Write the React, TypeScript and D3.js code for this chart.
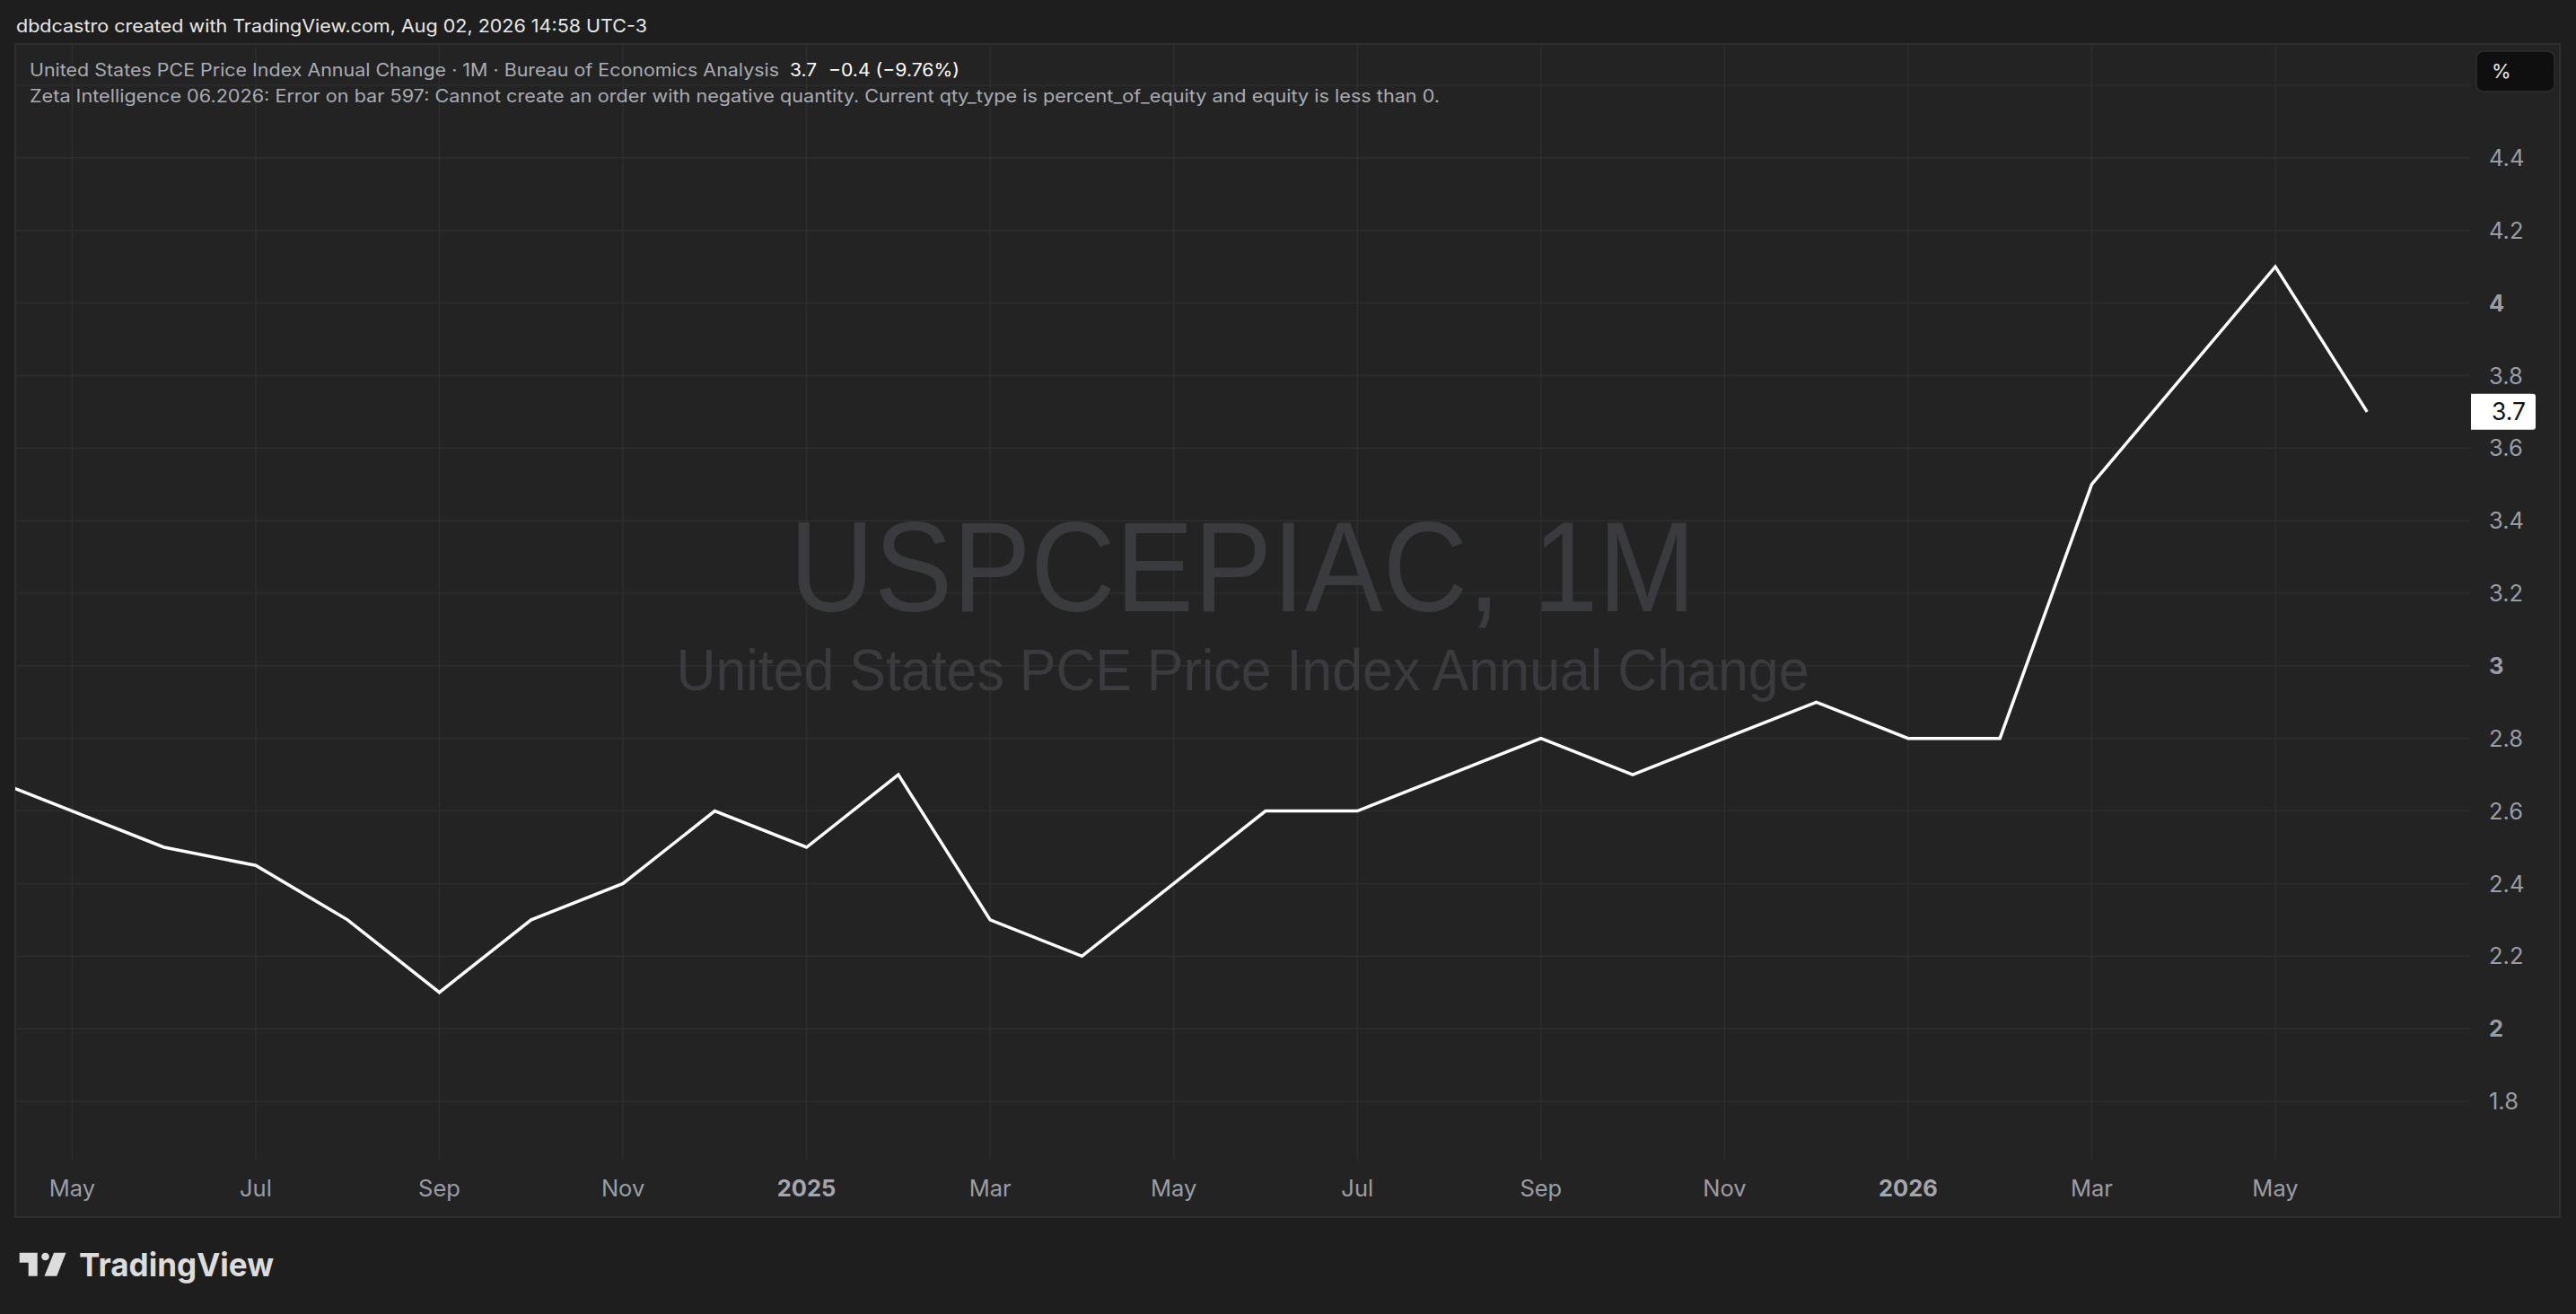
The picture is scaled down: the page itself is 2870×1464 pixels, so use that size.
import * as d3 from "d3";

// monthly series, Apr 2024 .. Jun 2026
const months = [
  "2024-04", "2024-05", "2024-06", "2024-07", "2024-08", "2024-09", "2024-10",
  "2024-11", "2024-12", "2025-01", "2025-02", "2025-03", "2025-04", "2025-05",
  "2025-06", "2025-07", "2025-08", "2025-09", "2025-10", "2025-11", "2025-12",
  "2026-01", "2026-02", "2026-03", "2026-04", "2026-05", "2026-06",
];
const pceValues = [
  2.7, 2.6, 2.5, 2.45, 2.3, 2.1, 2.3, 2.4, 2.6, 2.5, 2.7, 2.3, 2.2, 2.4,
  2.6, 2.6, 2.7, 2.8, 2.7, 2.8, 2.9, 2.8, 2.8, 3.5, 3.8, 4.1, 3.7,
];
const xTickMonths = [
  "2024-05", "2024-07", "2024-09", "2024-11", "2025-01", "2025-03", "2025-05",
  "2025-07", "2025-09", "2025-11", "2026-01", "2026-03", "2026-05",
];
const xTickLabels = [
  "May", "Jul", "Sep", "Nov", "2025", "Mar", "May", "Jul", "Sep", "Nov", "2026", "Mar", "May",
];
const yGridValues = [1.8, 2, 2.2, 2.4, 2.6, 2.8, 3, 3.2, 3.4, 3.6, 3.8, 4, 4.2, 4.4, 4.6];
const yLabelValues = [1.8, 2, 2.2, 2.4, 2.6, 2.8, 3, 3.2, 3.4, 3.6, 3.8, 4, 4.2, 4.4];

const W = 2870;
const H = 1464;
const FONT = "Inter, 'Noto Sans', sans-serif";

// chart frame and pane
const frame = { left: 17, top: 49, right: 2852, bottom: 1356 };
const pane = { left: 17, top: 49, right: 2752, bottom: 1291 };

export default function App() {
  const x = d3
    .scaleLinear()
    .domain([1, 25])
    .range([80.4, 2535]);
  const y = d3.scaleLinear().domain([1.8, 4.6]).range([1227, 95]);

  const idx = (m: string) => months.indexOf(m);

  const line = d3
    .line<number>()
    .x((_, i) => x(i))
    .y((d) => y(d));

  const last = pceValues[pceValues.length - 1];
  const prev = pceValues[pceValues.length - 2];
  const change = last - prev;
  const changePct = (change / prev) * 100;
  const fmtSigned = (v: number, digits: number) =>
    (v < 0 ? "\u2212" : "+") + Math.abs(v).toFixed(digits);

  const yFmt = (v: number) => (Number.isInteger(v) ? String(v) : v.toFixed(1));

  return (
    <svg
      width={W}
      height={H}
      style={{ position: "absolute", left: 0, top: 0, display: "block" }}
      fontFamily={FONT}
    >
      <defs>
        <clipPath id="pane-clip">
          <rect
            x={pane.left}
            y={pane.top}
            width={pane.right - pane.left}
            height={pane.bottom - pane.top}
          />
        </clipPath>
      </defs>

      <rect x={0} y={0} width={W} height={H} fill="#1e1e1e" />

      {/* header */}
      <text x={18} y={36} fontSize={20} fill="#e8e8e8" textLength={703} lengthAdjust="spacingAndGlyphs">
        dbdcastro created with TradingView.com, Aug 02, 2026 14:58 UTC-3
      </text>

      {/* chart frame */}
      <rect
        x={frame.left}
        y={frame.top}
        width={frame.right - frame.left}
        height={frame.bottom - frame.top}
        fill="#232323"
        stroke="#2f2f2f"
        strokeWidth={2}
      />

      {/* grid */}
      <g stroke="#2e2e2e" strokeWidth={1.5}>
        {xTickMonths.map((m) => (
          <line key={m} x1={x(idx(m))} x2={x(idx(m))} y1={pane.top} y2={pane.bottom} />
        ))}
        {yGridValues.map((v) => (
          <line key={v} x1={pane.left} x2={pane.right} y1={y(v)} y2={y(v)} />
        ))}
      </g>

      {/* watermark */}
      <text
        x={(pane.left + pane.right) / 2}
        y={681}
        textAnchor="middle"
        fontSize={142}
        fill="#3a3b3f"
        fontFamily="'Liberation Sans', Arial, sans-serif"
        textLength={1010}
        lengthAdjust="spacingAndGlyphs"
      >
        USPCEPIAC, 1M
      </text>
      <text
        x={(pane.left + pane.right) / 2}
        y={769}
        textAnchor="middle"
        fontSize={64}
        fill="#3a3b3f"
        fontFamily="'Liberation Sans', Arial, sans-serif"
        textLength={1262}
        lengthAdjust="spacingAndGlyphs"
      >
        United States PCE Price Index Annual Change
      </text>

      {/* series */}
      <path
        d={line(pceValues) ?? ""}
        fill="none"
        stroke="#ffffff"
        strokeWidth={3.5}
        strokeLinejoin="miter"
        clipPath="url(#pane-clip)"
      />

      {/* legend */}
      <text x={33} y={85} fontSize={19.5} fill="#a9acb4" textLength={835} lengthAdjust="spacingAndGlyphs">
        United States PCE Price Index Annual Change · 1M · Bureau of Economics Analysis
      </text>
      <text x={880} y={85} fontSize={19.5} fill="#ffffff" textLength={30} lengthAdjust="spacingAndGlyphs">
        {last.toFixed(1)}
      </text>
      <text x={923} y={85} fontSize={19.5} fill="#ffffff" textLength={146} lengthAdjust="spacingAndGlyphs">
        {`${fmtSigned(change, 1)} (${fmtSigned(changePct, 2)}%)`}
      </text>
      <text x={33} y={114} fontSize={19.5} fill="#a9acb4" textLength={1571} lengthAdjust="spacingAndGlyphs">
        Zeta Intelligence 06.2026: Error on bar 597: Cannot create an order with negative quantity. Current qty_type is percent_of_equity and equity is less than 0.
      </text>

      {/* y axis labels */}
      {yLabelValues.map((v) => (
        <text
          key={v}
          x={2773}
          y={y(v)}
          dy="0.36em"
          fontSize={25.5}
          fill="#9a9da6"
          fontWeight={Number.isInteger(v) ? 700 : 400}
        >
          {yFmt(v)}
        </text>
      ))}

      {/* last value label */}
      <path
        d={`M${pane.right + 1},${y(last) - 20} H${2822} a3,3 0 0 1 3,3 V${y(last) + 17} a3,3 0 0 1 -3,3 H${pane.right + 1} Z`}
        fill="#ffffff"
      />
      <text x={2814} y={y(last)} dy="0.36em" textAnchor="end" fontSize={26.5} fill="#111111">
        {last.toFixed(1)}
      </text>

      {/* % button */}
      <rect x={2759} y={57} width={87} height={45} rx={8} fill="#0f0f0f" stroke="#2e2e2e" strokeWidth={1.5} />
      <text x={2776} y={87} fontSize={22} fill="#e8e8e8">
        %
      </text>

      {/* x axis labels */}
      {xTickMonths.map((m, i) => {
        const isYear = m.endsWith("-01");
        return (
          <text
            key={m}
            x={x(idx(m))}
            y={1333}
            textAnchor="middle"
            fontSize={25.5}
            fill={isYear ? "#a3a6ae" : "#9a9da6"}
            fontWeight={isYear ? 700 : 400}
          >
            {xTickLabels[i]}
          </text>
        );
      })}

      {/* TradingView logo */}
      <g fill="#dcdcdc">
        <path d="M21.7,1395.7 H41.7 V1421.7 H31.7 V1406.7 H21.7 Z" />
        <circle cx={50.5} cy={1400} r={4.3} />
        <path d="M60,1395.7 H73.5 L63.3,1421.7 H49.5 Z" />
        <text x={88} y={1422} fontSize={36} fontWeight={700} textLength={217} lengthAdjust="spacingAndGlyphs">
          TradingView
        </text>
      </g>
    </svg>
  );
}
